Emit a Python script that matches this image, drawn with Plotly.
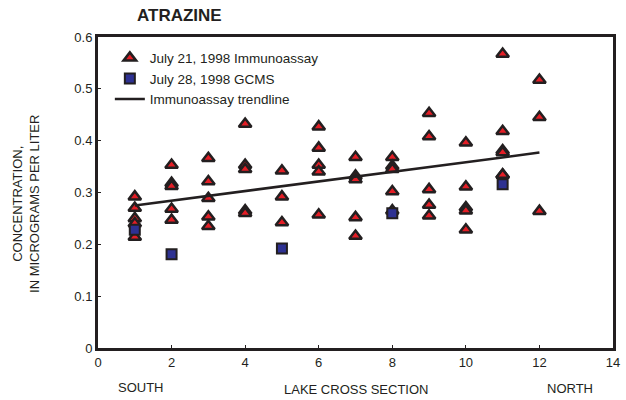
import plotly.graph_objects as go

# Immunoassay (July 21, 1998) values per lake cross section
immuno_x = ([1]*5 + [2]*5 + [3]*5 + [4]*5 + [5]*3 + [6]*5 + [7]*5 +
            [8]*5 + [9]*5 + [10]*5 + [11]*6 + [12]*3)
immuno_y = [0.292, 0.270, 0.250, 0.240, 0.214,
            0.353, 0.318, 0.312, 0.268, 0.247,
            0.366, 0.321, 0.289, 0.253, 0.235,
            0.432, 0.353, 0.345, 0.265, 0.260,
            0.342, 0.292, 0.242,
            0.427, 0.386, 0.353, 0.340, 0.257,
            0.368, 0.332, 0.325, 0.252, 0.216,
            0.368, 0.351, 0.345, 0.302, 0.265,
            0.453, 0.408, 0.306, 0.276, 0.255,
            0.396, 0.311, 0.271, 0.265, 0.228,
            0.567, 0.418, 0.381, 0.377, 0.334, 0.334,
            0.517, 0.445, 0.264]

# GCMS (July 28, 1998)
gcms_x = [1, 2, 5, 8, 11]
gcms_y = [0.228, 0.181, 0.192, 0.260, 0.316]

# Immunoassay trendline endpoints
trend_x = [1, 12]
trend_y = [0.275, 0.377]

x_ticks = [0, 2, 4, 6, 8, 10, 12, 14]
y_ticks = [0, 0.1, 0.2, 0.3, 0.4, 0.5, 0.6]

dark = "#231f20"
font = "Liberation Sans, Arial, sans-serif"

L, R, T, B = 98, 6, 37, 52
W, H = 626, 400
pw = W - L - R
ph = H - T - B


def px(xp):
    return (xp - L) / pw


def py(yp):
    return (H - B - yp) / ph


fig = go.Figure()
fig.add_trace(go.Scatter(
    x=immuno_x, y=immuno_y, mode="markers", name="July 21, 1998 Immunoassay",
    marker=dict(symbol="triangle-up", size=11, color="#e41e26",
                line=dict(color=dark, width=2.5))))
fig.add_trace(go.Scatter(
    x=gcms_x, y=gcms_y, mode="markers", name="July 28, 1998 GCMS",
    marker=dict(symbol="square", size=10, color="#2e3192",
                line=dict(color=dark, width=2))))
fig.add_trace(go.Scatter(
    x=trend_x, y=trend_y, mode="lines", name="Immunoassay trendline",
    line=dict(color=dark, width=2.5)))

fig.update_layout(
    width=W, height=H,
    margin=dict(l=L, r=R, t=T, b=B),
    paper_bgcolor="white", plot_bgcolor="white",
    font=dict(family=font, size=13, color=dark),
    showlegend=True,
    legend=dict(x=0.023, y=0.982, xanchor="left", yanchor="top",
                bgcolor="rgba(0,0,0,0)", font=dict(size=13.5, color=dark),
                tracegroupgap=0, itemwidth=30),
)

fig.add_annotation(text="<b>ATRAZINE</b>", x=px(181), y=py(15), xanchor="center",
                   yanchor="middle", xref="paper", yref="paper", showarrow=False,
                   font=dict(size=17, color=dark))
fig.add_annotation(text="SOUTH", x=px(142), y=py(387), xanchor="center",
                   yanchor="middle", xref="paper", yref="paper", showarrow=False,
                   font=dict(size=13, color=dark))
fig.add_annotation(text="LAKE CROSS SECTION", x=px(360), y=py(389), xanchor="center",
                   yanchor="middle", xref="paper", yref="paper", showarrow=False,
                   font=dict(size=13, color=dark))
fig.add_annotation(text="NORTH", x=px(576), y=py(388), xanchor="center",
                   yanchor="middle", xref="paper", yref="paper", showarrow=False,
                   font=dict(size=13, color=dark))
fig.add_annotation(text="CONCENTRATION,<br>IN MICROGRAMS PER LITER",
                   x=px(25), y=py(204), xanchor="center", yanchor="middle",
                   textangle=-90, xref="paper", yref="paper", showarrow=False,
                   font=dict(size=13, color=dark))

fig.update_xaxes(range=[0, 14], tickvals=x_ticks, ticks="inside", ticklen=3,
                 tickcolor=dark, showgrid=False, zeroline=False,
                 showline=True, linewidth=3, linecolor=dark, mirror=True,
                 tickfont=dict(size=13, color=dark))
fig.update_yaxes(range=[0, 0.6], tickvals=y_ticks, ticks="inside", ticklen=3,
                 tickcolor=dark, showgrid=False, zeroline=False,
                 showline=True, linewidth=3, linecolor=dark, mirror=True,
                 tickfont=dict(size=13, color=dark))

fig.write_html("out.html")
